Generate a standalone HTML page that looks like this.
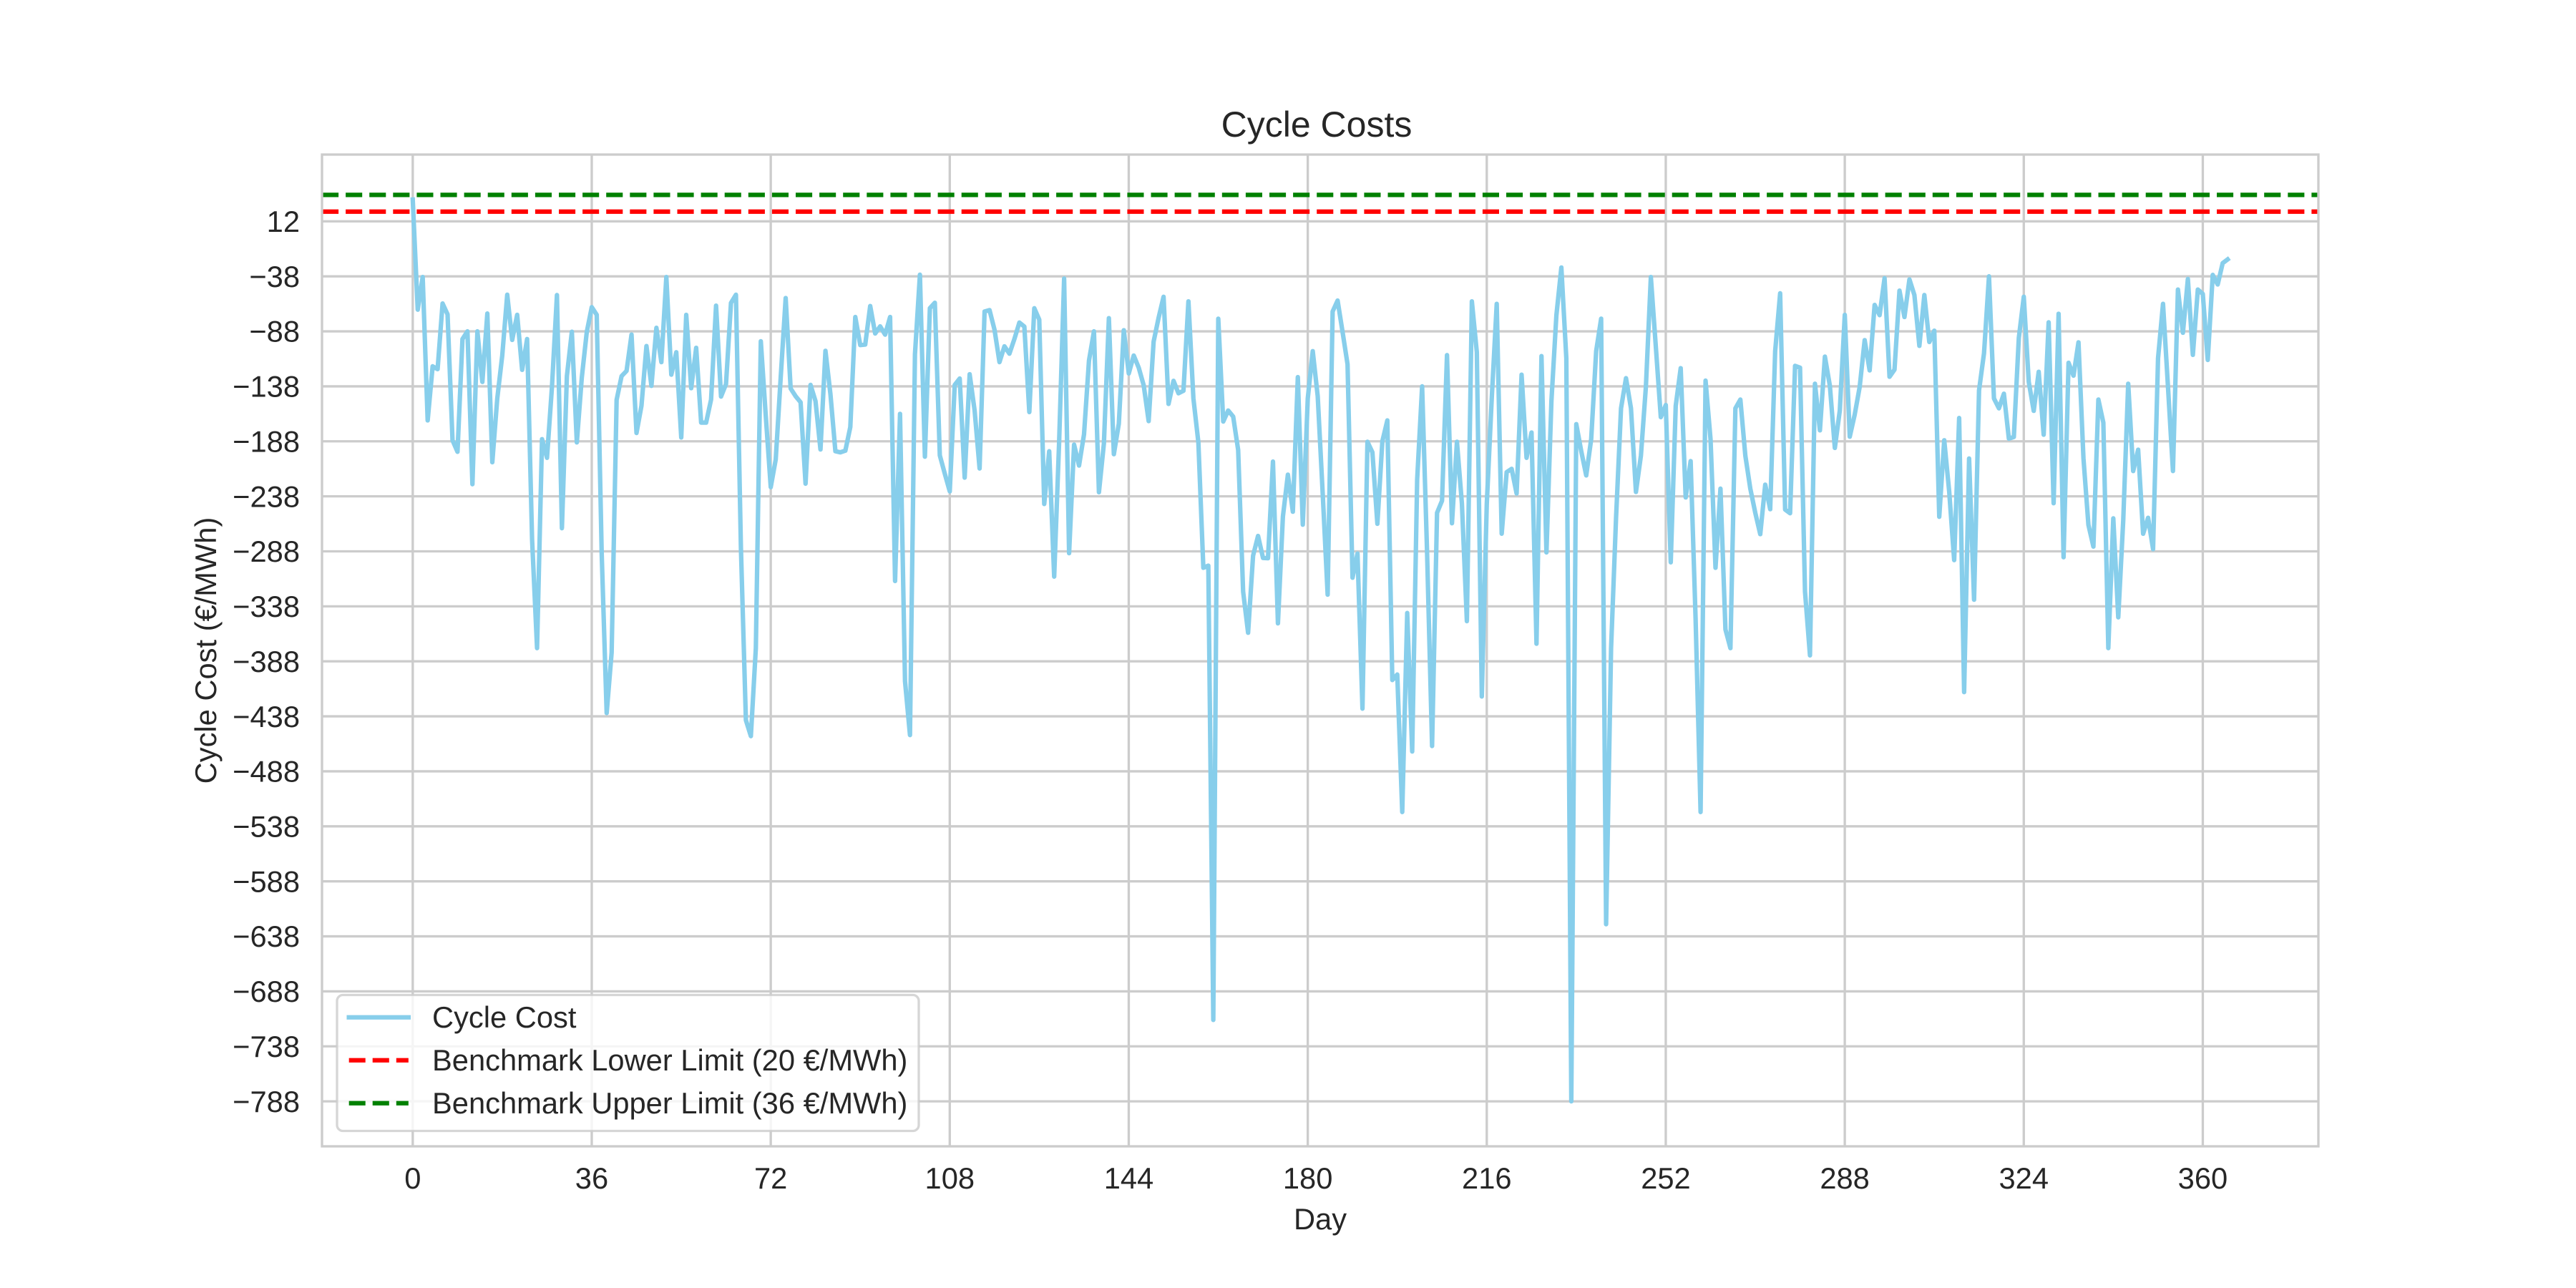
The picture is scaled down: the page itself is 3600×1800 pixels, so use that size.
<!DOCTYPE html>
<html lang="en">
<head>
<meta charset="utf-8">
<title>Cycle Costs</title>
<style>
html,body{margin:0;padding:0;background:#fff;}
svg{display:block;}
text{font-family:"Liberation Sans",Arial,sans-serif;fill:#262626;}
</style>
</head>
<body>
<svg id="chart" xmlns="http://www.w3.org/2000/svg" width="3600" height="1800" viewBox="0 0 3600 1800">
  <defs>
    <clipPath id="plot-clip"><rect x="450" y="216" width="2790" height="1386"/></clipPath>
    <clipPath id="legend-dash-clip"><rect x="487.6" y="1460" width="83.3" height="100"/></clipPath>
  </defs>
  <rect x="0" y="0" width="3600" height="1800" fill="#ffffff"/>
  <rect x="450" y="216" width="2790" height="1386" fill="#ffffff"/>
  <g id="grid"></g>
  <g id="series" clip-path="url(#plot-clip)"></g>
  <rect x="450" y="216" width="2790" height="1386" fill="none" stroke="#cccccc" stroke-width="3.33"/>
  <g id="x-ticks"></g>
  <g id="y-ticks"></g>
  <text x="1840" y="191" font-size="50" text-anchor="middle">Cycle Costs</text>
  <text x="1845" y="1718" font-size="41.67" text-anchor="middle">Day</text>
  <text transform="translate(302,909) rotate(-90)" font-size="41.67" text-anchor="middle">Cycle Cost (€/MWh)</text>
  <g>
    <rect x="471" y="1390.5" width="813" height="190" rx="8.3" ry="8.3" fill="#ffffff" fill-opacity="0.8" stroke="#cccccc" stroke-opacity="0.8" stroke-width="3.33"/>
    <g>
      <line x1="487.6" y1="1421.7" x2="570.9" y2="1421.7" stroke="#87ceeb" stroke-width="6.25" stroke-linecap="square"/>
      <text x="604" y="1436" font-size="41.67">Cycle Cost</text>
    </g>
    <g>
      <line x1="487.6" y1="1481.7" x2="570.9" y2="1481.7" stroke="#ff0000" stroke-width="6.25" stroke-dasharray="23.1 10" clip-path="url(#legend-dash-clip)"/>
      <text x="604" y="1496" font-size="41.67">Benchmark Lower Limit (20 €/MWh)</text>
    </g>
    <g>
      <line x1="487.6" y1="1541.7" x2="570.9" y2="1541.7" stroke="#008000" stroke-width="6.25" stroke-dasharray="23.1 10" clip-path="url(#legend-dash-clip)"/>
      <text x="604" y="1556" font-size="41.67">Benchmark Upper Limit (36 €/MWh)</text>
    </g>
  </g>
</svg>
<script>
const xTickValues = [0, 36, 72, 108, 144, 180, 216, 252, 288, 324, 360];
const yTickValues = [12, -38, -88, -138, -188, -238, -288, -338, -388, -438, -488, -538, -588, -638, -688, -738, -788];
const lowerLimit = 20.8;
const upperLimit = 36;
const cycleCost = [
31.8,-68.3,-38.6,-169,-119.8,-122.4,-62.7,-72.6,-187,-197.5,
-95,-88,-227,-88,-134,-71.8,-207,-149,-110,-54.7,
-95.8,-73,-123,-95,-277,-376,-186,-203,-138.4,-55,
-267,-128.7,-88.4,-189,-130,-88.6,-66,-73,-290,-435,
-380,-150.3,-128.7,-124,-91,-180.4,-155.7,-101.4,-137.6,-84.8,
-116,-38.6,-127.4,-107,-184.5,-73,-139.7,-103,-171,-171,
-150,-64.6,-147.3,-136,-62.2,-54.7,-285,-441.5,-456,-376,
-97,-165,-229.6,-204.5,-130,-57.7,-140,-147,-152.5,-226.5,
-136.7,-151.4,-195.4,-105.7,-145,-197,-198,-196.5,-175,-75,
-100.5,-100,-65,-90,-83.5,-91,-75,-315,-163,-406,
-455,-109,-36.5,-202,-67,-62,-200.8,-217.4,-233.5,-136.7,
-130.9,-221,-127,-160,-212.7,-70,-68.7,-86.5,-116,-101.6,
-108.3,-95,-80,-83.7,-161.4,-67,-77.4,-245,-197,-311,
-188,-40,-289.7,-191,-210,-181.7,-114.6,-88,-234.3,-190,
-76,-199.7,-172,-87,-126.3,-110,-121,-137,-169.6,-97.3,
-75.7,-56.6,-154,-133,-144.3,-142,-60.7,-149,-189,-303,
-301,-714,-76.5,-170,-160,-165.5,-195.8,-324.6,-362,-292,
-274,-294,-294.3,-206.4,-353.5,-256.4,-218.3,-252,-129.6,-263.8,
-149,-106,-147,-235,-327.4,-70,-60,-88.6,-118,-312,
-290,-431,-188.4,-198,-263,-188,-169,-405,-400,-525,
-344,-470,-222.8,-138,-290,-465,-253,-242,-109.6,-262.5,
-188.4,-244.5,-351.5,-60.7,-107,-420,-245,-149,-63,-272,
-216,-213,-235.4,-127.4,-203,-180,-372,-110.5,-289,-151.4,
-73.5,-30,-112.5,-788,-172.4,-197,-219,-186,-106,-76.5,
-627,-376,-257.5,-158,-130.6,-158,-234,-201,-138.4,-38.6,
-102,-166,-155,-298,-155.7,-121.5,-239,-206,-350,-525,
-132.8,-186,-303,-231,-359,-376,-158,-150,-201,-231,
-253,-272.4,-227.4,-249.7,-106,-53.4,-250,-253.4,-119.4,-121,
-324.6,-382.6,-135.6,-178,-111,-137.4,-194,-160,-73,-183.8,
-163.6,-138.4,-96,-123.5,-64,-73.3,-39.7,-129.3,-122.8,-51,
-75,-40.8,-55,-101.2,-55,-97.7,-87.4,-256.6,-187,-233.7,
-296,-166.8,-416,-203.6,-332,-141.7,-108,-38,-149,-158,
-144.7,-185.6,-184,-94,-56.6,-134,-160.3,-124.8,-182,-79.8,
-244.3,-72,-293.4,-116.6,-128.3,-98,-203.4,-264,-283.7,-150,
-171,-376,-258,-348,-260,-135.6,-215,-195.6,-272,-257.5,
-286,-112.5,-63,-138.4,-215,-50,-89.3,-40.4,-109.4,-50,
-54,-114,-36.7,-45.4,-26,-22.6
];

const SVG_NS = 'http://www.w3.org/2000/svg';
const plotLeft = 450, plotRight = 3240, plotTop = 216, plotBottom = 1602;
const xDomainMin = -18.25, xDomainMax = 383.25;
const yDomainMin = -828.9, yDomainMax = 72.7;

function xScale(d) {
  return plotLeft + (d - xDomainMin) / (xDomainMax - xDomainMin) * (plotRight - plotLeft);
}
function yScale(v) {
  return plotTop + (yDomainMax - v) / (yDomainMax - yDomainMin) * (plotBottom - plotTop);
}
function formatTick(v) {
  return v < 0 ? '\u2212' + Math.abs(v) : String(v);
}

const gridLayer = document.getElementById('grid');
const seriesLayer = document.getElementById('series');
const xTickLayer = document.getElementById('x-ticks');
const yTickLayer = document.getElementById('y-ticks');

xTickValues.forEach(function (t) {
  const line = document.createElementNS(SVG_NS, 'line');
  
  
  line.setAttribute('x1', xScale(t));
  line.setAttribute('x2', xScale(t));
  line.setAttribute('y1', plotTop);
  line.setAttribute('y2', plotBottom);
  line.setAttribute('stroke', '#cccccc');
  line.setAttribute('stroke-width', '3.33');
  gridLayer.appendChild(line);

  const label = document.createElementNS(SVG_NS, 'text');
  
  
  label.setAttribute('x', xScale(t));
  label.setAttribute('y', 1661);
  label.setAttribute('font-size', '41.67');
  label.setAttribute('text-anchor', 'middle');
  label.textContent = formatTick(t);
  xTickLayer.appendChild(label);
});

yTickValues.forEach(function (t) {
  const line = document.createElementNS(SVG_NS, 'line');
  
  
  line.setAttribute('x1', plotLeft);
  line.setAttribute('x2', plotRight);
  line.setAttribute('y1', yScale(t));
  line.setAttribute('y2', yScale(t));
  line.setAttribute('stroke', '#cccccc');
  line.setAttribute('stroke-width', '3.33');
  gridLayer.appendChild(line);

  const label = document.createElementNS(SVG_NS, 'text');
  
  
  label.setAttribute('x', 419);
  label.setAttribute('y', yScale(t) + 14.7);
  label.setAttribute('font-size', '41.67');
  label.setAttribute('text-anchor', 'end');
  label.textContent = formatTick(t);
  yTickLayer.appendChild(label);
});

const costLine = document.createElementNS(SVG_NS, 'polyline');


costLine.setAttribute('points', cycleCost.map(function (v, d) {
  return xScale(d).toFixed(2) + ',' + yScale(v).toFixed(2);
}).join(' '));
costLine.setAttribute('fill', 'none');
costLine.setAttribute('stroke', '#87ceeb');
costLine.setAttribute('stroke-width', '6.25');
costLine.setAttribute('stroke-linejoin', 'round');
costLine.setAttribute('stroke-linecap', 'square');
seriesLayer.appendChild(costLine);

const lowerLine = document.createElementNS(SVG_NS, 'line');


lowerLine.setAttribute('x1', plotLeft);
lowerLine.setAttribute('x2', plotRight);
lowerLine.setAttribute('y1', yScale(lowerLimit));
lowerLine.setAttribute('y2', yScale(lowerLimit));
lowerLine.setAttribute('stroke', '#ff0000');
lowerLine.setAttribute('stroke-width', '6.25');
lowerLine.setAttribute('stroke-dasharray', '23.1 10');
seriesLayer.appendChild(lowerLine);

const upperLine = document.createElementNS(SVG_NS, 'line');


upperLine.setAttribute('x1', plotLeft);
upperLine.setAttribute('x2', plotRight);
upperLine.setAttribute('y1', yScale(upperLimit));
upperLine.setAttribute('y2', yScale(upperLimit));
upperLine.setAttribute('stroke', '#008000');
upperLine.setAttribute('stroke-width', '6.25');
upperLine.setAttribute('stroke-dasharray', '23.1 10');
seriesLayer.appendChild(upperLine);
</script>
</body>
</html>
